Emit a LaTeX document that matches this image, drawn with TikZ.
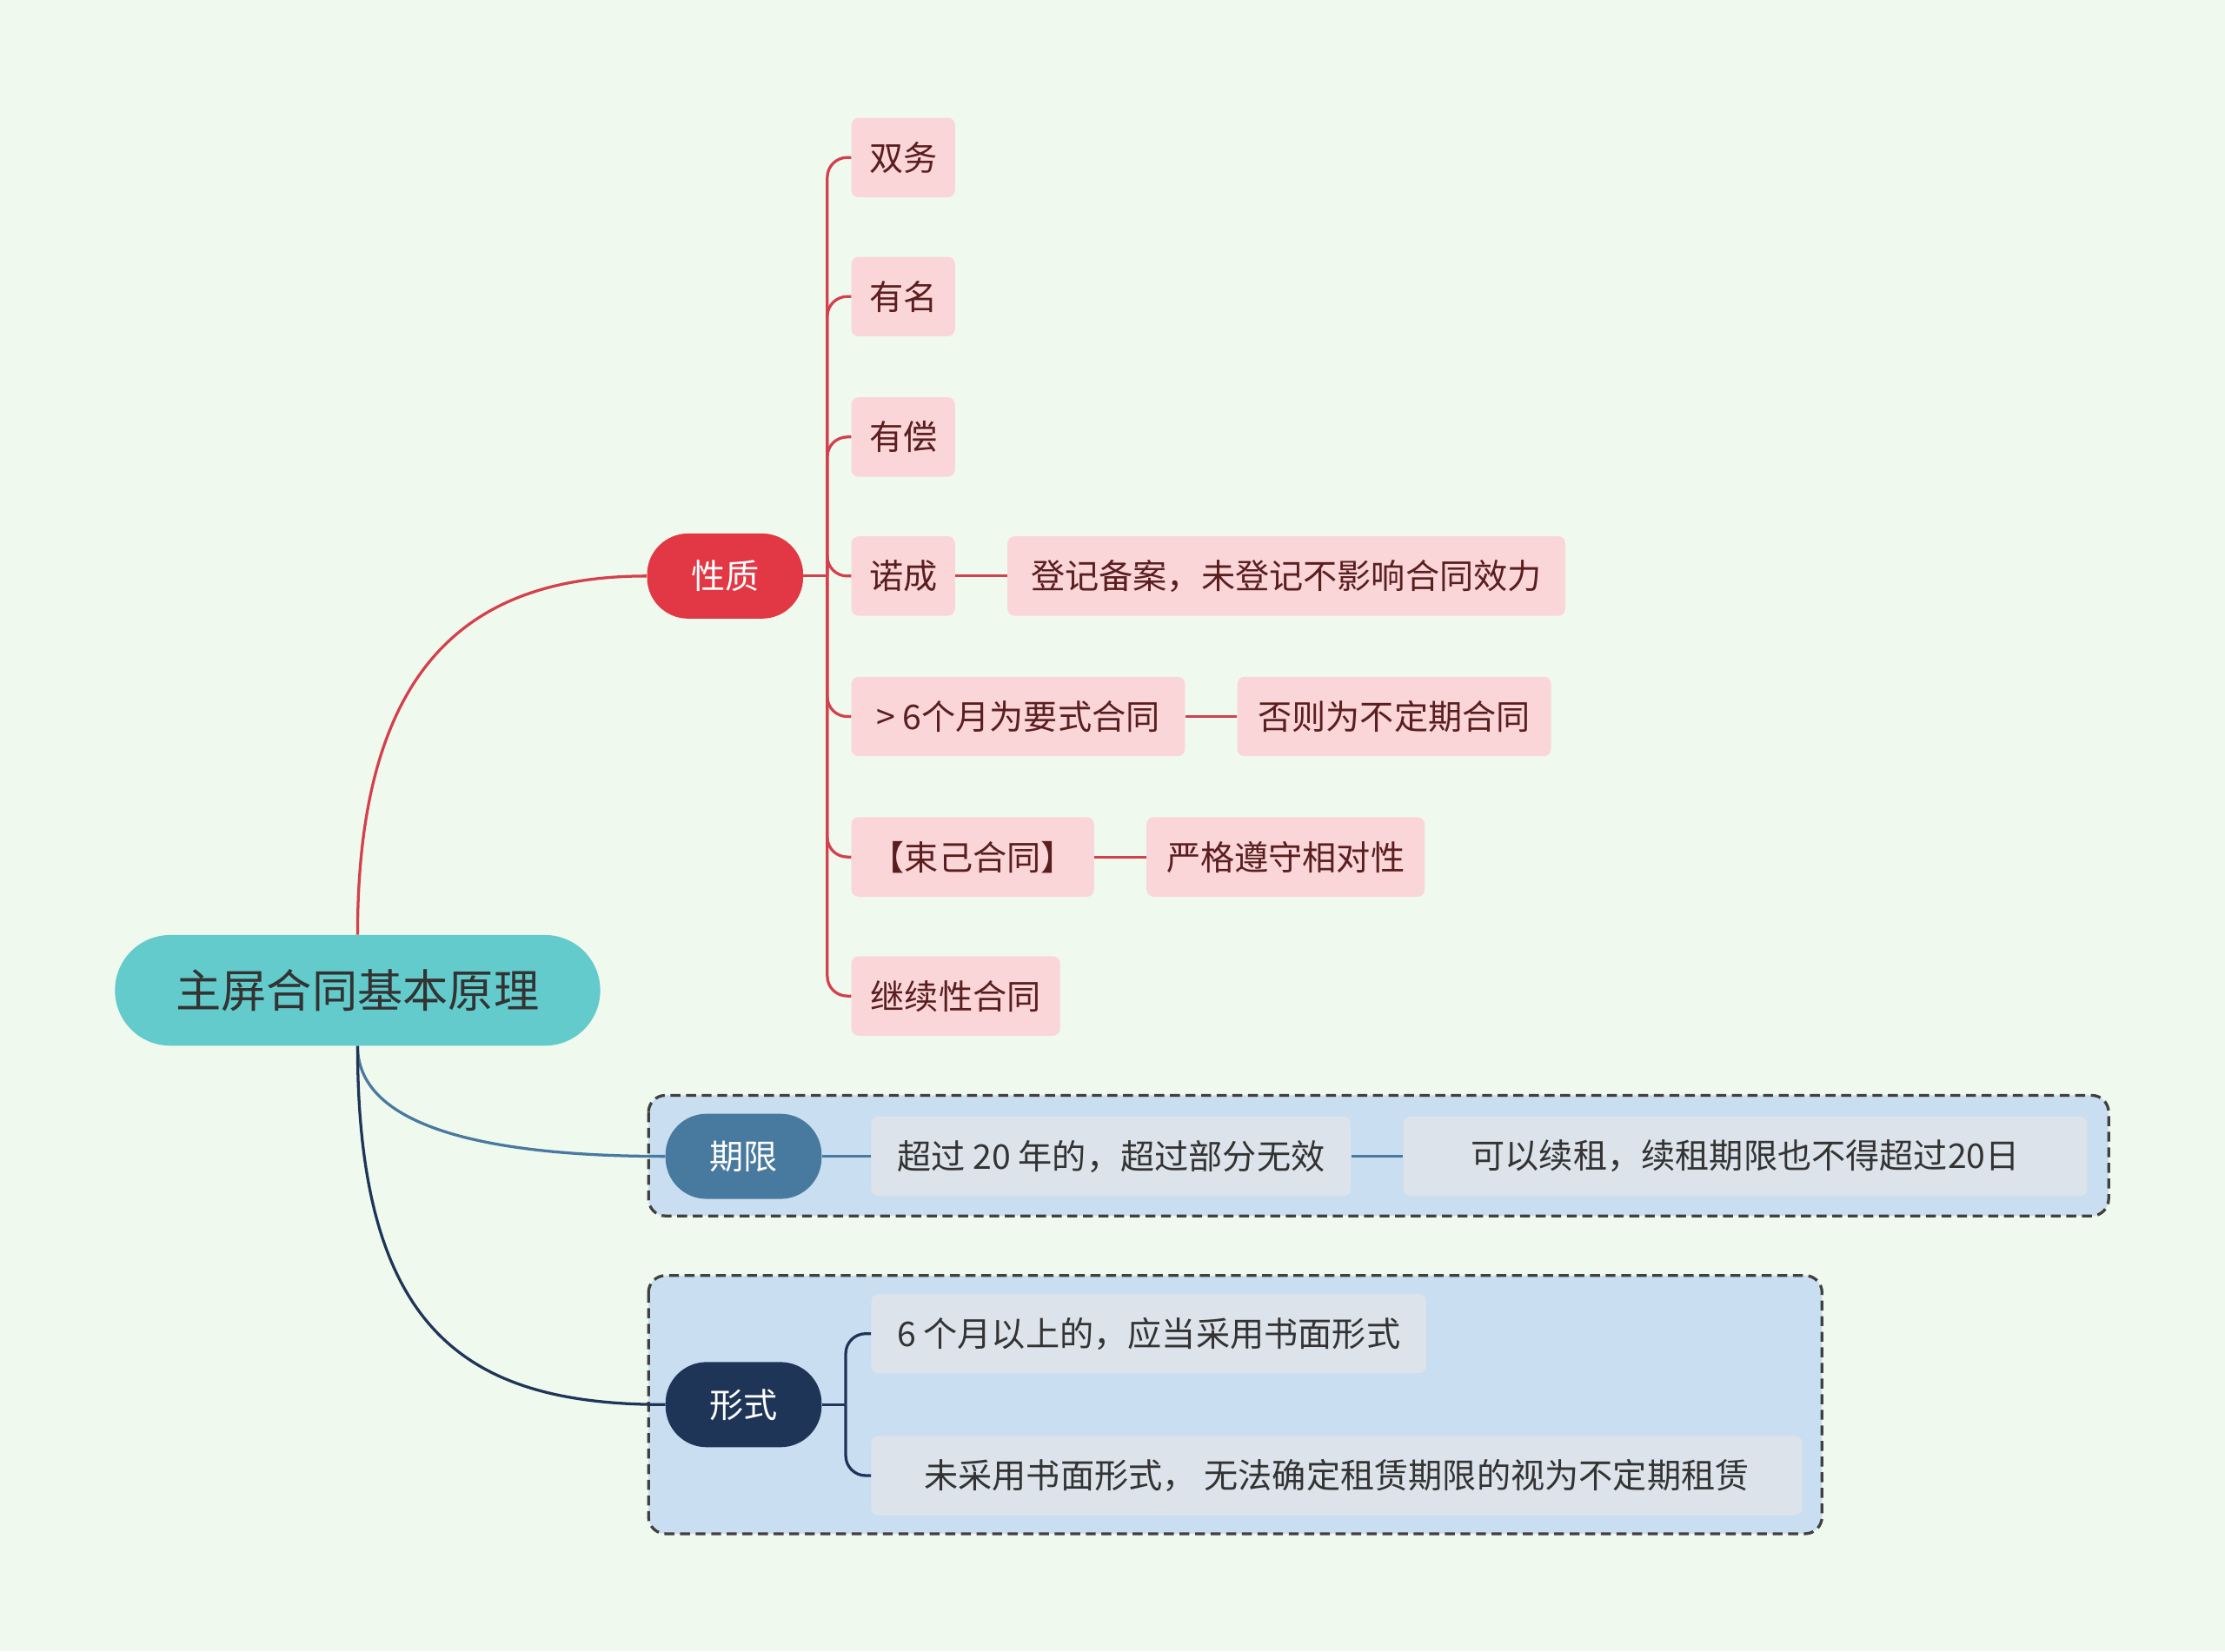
\documentclass[tikz,border=0pt]{standalone}
\usepackage{fontspec}
\setmainfont{Noto Sans CJK SC}
\definecolor{bg}{HTML}{F0F9EE}
\definecolor{teal}{HTML}{63CBCB}
\definecolor{redn}{HTML}{E23744}
\definecolor{pink}{HTML}{FAD6D9}
\definecolor{redl}{HTML}{D4404B}
\definecolor{redt}{HTML}{5A1E1E}
\definecolor{bluen}{HTML}{48799E}
\definecolor{navy}{HTML}{1E3557}
\definecolor{panel}{HTML}{C9DEF0}
\definecolor{grayb}{HTML}{DCE3EA}
\tikzset{
 box/.style={rounded corners=5pt,inner sep=0pt,font=\fontsize{24}{28}\selectfont},
 pk/.style={box,fill=pink,text=redt},
 gb/.style={box,fill=grayb,text=black!80},
 main/.style={rounded corners=29pt,inner sep=0pt,text=white,font=\fontsize{24}{28}\selectfont,minimum width=110pt,minimum height=60pt},
 rl/.style={draw=redl,line width=2pt},
}
\newcommand{\bx}[6]{\node[#1,minimum width={#4-#3},minimum height={#6-#5}] (#2) at ({(#3+#4)/2},{(#5+#6)/2}) }
\begin{document}
\begin{tikzpicture}[x=1pt,y=-1pt]
\fill[bg] (0,0) rectangle (1568,1164);
\useasboundingbox (0,0) rectangle (1568,1164);
% panels
\draw[dashed,line width=2pt,draw=black!75,fill=panel,rounded corners=12pt,dash pattern=on 7pt off 4pt] (457,772) rectangle (1486,857);
\draw[dashed,line width=2pt,draw=black!75,fill=panel,rounded corners=12pt,dash pattern=on 7pt off 4pt] (457,899) rectangle (1284,1081);
% root
\node[rounded corners=39pt,fill=teal,minimum width=342pt,minimum height=78pt,inner sep=0pt,font=\fontsize{32}{36}\selectfont,text=black!80] (root) at (252,698) {主屏合同基本原理};
\node[main,fill=redn] (xz) at (511,406) {性质};
\node[main,fill=bluen] (qx) at (524,815) {期限};
\node[main,fill=navy] (xs) at (524,990) {形式};
% pink
\bx{pk}{a}{600}{673}{83}{139}{双务};
\bx{pk}{b}{600}{673}{181}{237}{有名};
\bx{pk}{c}{600}{673}{280}{336}{有偿};
\bx{pk}{d}{600}{673}{378}{434}{诺成};
\bx{pk}{e}{600}{835}{477}{533}{> 6个月为要式合同};
\bx{pk}{f}{600}{771}{576}{632}{【束己合同】};
\bx{pk}{g}{600}{747}{674}{730}{继续性合同};
\bx{pk}{d2}{710}{1103}{378}{434}{登记备案，未登记不影响合同效力};
\bx{pk}{e2}{872}{1093}{477}{533}{否则为不定期合同};
\bx{pk}{f2}{808}{1004}{576}{632}{严格遵守相对性};
\bx{gb}{q1}{614}{952}{787}{843}{超过 20 年的，超过部分无效};
\bx{gb}{q2}{989}{1471}{787}{843}{可以续租，续租期限也不得超过20日};
\bx{gb}{s1}{614}{1005}{912}{968}{6 个月以上的，应当采用书面形式};
\bx{gb}{s2}{614}{1270}{1012}{1068}{未采用书面形式， 无法确定租赁期限的视为不定期租赁};
% root connectors
\draw[rl] (root.north) .. controls (252,470) and (330,406) .. (xz.west);
\draw[bluen,line width=2pt] (root.south) .. controls (252,790) and (330,815) .. (qx.west);
\draw[navy,line width=2pt] (root.south) .. controls (252,940) and (330,990) .. (xs.west);
% red bus
\coordinate (bus) at (583,406);
\draw[rl] (xz.east) -- (bus);
\foreach \n in {a,b,c,d,e,f,g}{
 \draw[rl,rounded corners=14pt] (bus) -- (bus |- \n.west) -- (\n.west);
}
\draw[rl] (d.east) -- (d2.west);
\draw[rl] (e.east) -- (e2.west);
\draw[rl] (f.east) -- (f2.west);
\draw[bluen,line width=2pt] (qx.east) -- (q1.west);
\draw[bluen,line width=2pt] (q1.east) -- (q2.west);
\coordinate (bus2) at (596,990);
\draw[navy,line width=2pt] (xs.east) -- (bus2);
\foreach \n in {s1,s2}{
 \draw[navy,line width=2pt,rounded corners=14pt] (bus2) -- (bus2 |- \n.west) -- (\n.west);
}
\end{tikzpicture}
\end{document}
